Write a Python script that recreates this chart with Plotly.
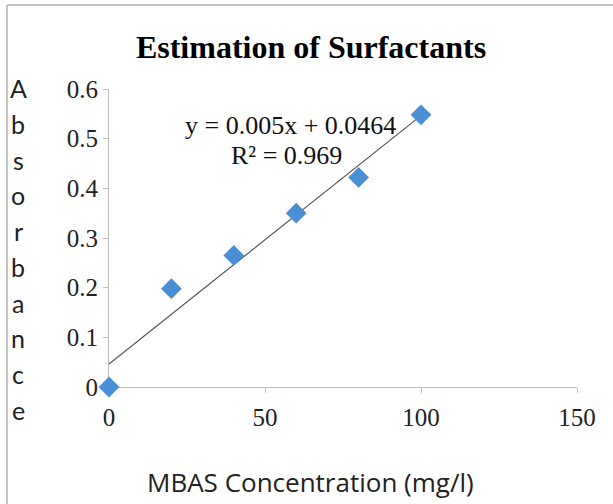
import plotly.graph_objects as go

# Data
conc = [0, 20, 40, 60, 80, 100]
absorbance = [0.0, 0.198, 0.265, 0.350, 0.422, 0.548]
slope = 0.005
intercept = 0.0464
r2 = 0.969
x_ticks = [0, 50, 100, 150]
y_ticks = [0, 0.1, 0.2, 0.3, 0.4, 0.5, 0.6]
title_text = "Estimation of Surfactants"
x_title = "MBAS Concentration (mg/l)"
y_title = "Absorbance"

W, H = 613, 504
L, R, T, B = 109, 36, 89, 117
pw, ph = W - L - R, H - T - B

def px(x):
    return (x - L) / pw

def py(y):
    return (H - B - y) / ph

fig = go.Figure()
trend_x = [min(conc), max(conc)]
trend_y = [slope * v + intercept for v in trend_x]
fig.add_trace(go.Scatter(x=trend_x, y=trend_y, mode="lines",
                         line=dict(color="#555555", width=1.2), hoverinfo="skip"))
fig.add_trace(go.Scatter(x=conc, y=absorbance, mode="markers",
                         marker=dict(symbol="diamond", size=16, color="#4a8fd6",
                                     line=dict(width=0)),
                         cliponaxis=False))

serif = "Liberation Serif, Times New Roman, serif"
sans = "Lato, Open Sans, Liberation Sans, sans-serif"
sans2 = "Open Sans, Liberation Sans, sans-serif"

fig.update_layout(
    width=W, height=H,
    margin=dict(l=L, r=R, t=T, b=B),
    paper_bgcolor="white", plot_bgcolor="white",
    showlegend=False,
    title=dict(text="<b>" + title_text + "</b>", x=px(311), xanchor="center",
               xref="paper", y=1 - 47 / H, yanchor="middle",
               font=dict(family=serif, size=32, color="black")),
    xaxis=dict(range=[0, 150], tickvals=x_ticks, showgrid=False, zeroline=False,
               showline=True, linecolor="#bfbfbf", linewidth=1, layer="below traces",
               ticks="outside", ticklen=5, tickcolor="#bfbfbf", ticklabelstandoff=3,
               tickfont=dict(family=serif, size=25, color="#222222")),
    yaxis=dict(range=[0, 0.6], tickvals=y_ticks, showgrid=False, zeroline=False,
               showline=True, linecolor="#bfbfbf", linewidth=1, layer="below traces",
               ticks="outside", ticklen=5, tickcolor="#bfbfbf",
               tickfont=dict(family=serif, size=25, color="#222222")),
)

annotations = []
# stacked y-axis title letters
n = len(y_title)
y0, y1 = 88, 410
for i, ch in enumerate(y_title):
    yy = y0 + (y1 - y0) * i / (n - 1)
    annotations.append(dict(text=ch, x=px(18), y=py(yy), xref="paper", yref="paper",
                            showarrow=False, xanchor="center", yanchor="middle",
                            font=dict(family=sans, size=25, color="#222222")))
annotations.append(dict(text=x_title, x=px(310), y=py(482), xref="paper", yref="paper",
                        showarrow=False, xanchor="center", yanchor="middle",
                        font=dict(family=sans2, size=26, color="#222222")))
annotations.append(dict(text=f"y = {slope}x + {intercept}", x=px(290), y=py(125),
                        xref="paper", yref="paper", showarrow=False,
                        xanchor="center", yanchor="middle",
                        font=dict(family=serif, size=26, color="#111111")))
annotations.append(dict(text=f"R² = {r2}", x=px(286), y=py(155),
                        xref="paper", yref="paper", showarrow=False,
                        xanchor="center", yanchor="middle",
                        font=dict(family=serif, size=26, color="#111111")))
fig.update_layout(annotations=annotations)

# outer frame lines (left and top)
fig.add_shape(type="line", xref="paper", yref="paper",
              x0=px(7), x1=px(7), y0=py(5), y1=py(H + 5),
              line=dict(color="#b0b0b0", width=1.5))
fig.add_shape(type="line", xref="paper", yref="paper",
              x0=px(7), x1=px(W + 5), y0=py(5), y1=py(5),
              line=dict(color="#b0b0b0", width=1.5))

fig.write_html("out.html", config={"displayModeBar": False},
               post_script="document.body.style.margin='0px';")
